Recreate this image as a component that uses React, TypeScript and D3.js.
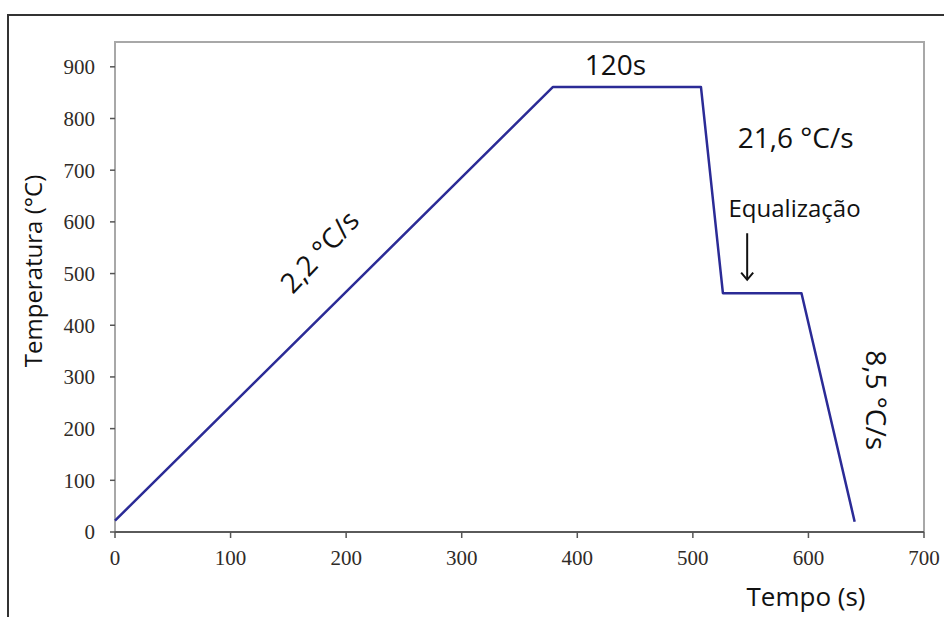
import * as d3 from 'd3';
import React from 'react';

// temperature profile
const times = [0, 379, 507, 526, 594, 640];
const temps = [22, 861, 861, 462, 462, 20];

const xTicks = [0, 100, 200, 300, 400, 500, 600, 700];
const yTicks = [0, 100, 200, 300, 400, 500, 600, 700, 800, 900];

const notes = ['120s', '21,6 °C/s', 'Equalização', '2,2 °C/s', '8,5 °C/s'];
const noteX = [433, 589, 588, 177, 658];
const noteY = [884, 743, 610, 542, 255];

const width = 944;
const height = 617;
const margin = { top: 42, right: 20, bottom: 85, left: 115 };

const sans = '"Open Sans", sans-serif';
const serif = '"Liberation Serif", "Times New Roman", serif';

const App: React.FC = () => {
  const x = d3.scaleLinear().domain([0, 700]).range([margin.left, width - margin.right]);
  const y = d3.scaleLinear().domain([0, 948]).range([height - margin.bottom, margin.top]);

  const points = times.map((t, i) => [t, temps[i]] as [number, number]);
  const line = d3
    .line<[number, number]>()
    .x((d) => x(d[0]))
    .y((d) => y(d[1]));

  const x0 = x(0);
  const x1 = x(700);
  const yb = y(0);
  const yt = y(948);

  return (
    <svg
      width={width}
      height={height}
      viewBox={`0 0 ${width} ${height}`}
      style={{ position: 'absolute', left: 0, top: 0, background: '#fff' }}
    >
      {/* outer frame, open on the right and bottom */}
      <path d={`M8,${height} V15 H${width}`} fill="none" stroke="#333" strokeWidth={2} />

      {/* plot frame */}
      <path d={`M${x0},${yb} V${yt} H${x1} V${yb}`} fill="none" stroke="#a8a8a8" strokeWidth={2} />
      <line x1={x0} x2={x1} y1={yb} y2={yb} stroke="#5a5a5a" strokeWidth={2} />

      {yTicks.map((t) => (
        <g key={`y${t}`}>
          <line x1={x0 - 5} x2={x0} y1={y(t)} y2={y(t)} stroke="#555" strokeWidth={1.5} />
          <text
            x={x0 - 20}
            y={y(t)}
            dy="0.35em"
            textAnchor="end"
            fontFamily={serif}
            fontSize={21}
            fill="#2f2b27"
          >
            {t}
          </text>
        </g>
      ))}

      {xTicks.map((t) => (
        <g key={`x${t}`}>
          <line x1={x(t)} x2={x(t)} y1={yb} y2={yb + 6} stroke="#555" strokeWidth={1.5} />
          <text
            x={x(t)}
            y={yb + 33}
            textAnchor="middle"
            fontFamily={serif}
            fontSize={21}
            fill="#2f2b27"
          >
            {t}
          </text>
        </g>
      ))}

      <path d={line(points) || ''} fill="none" stroke="#2b2b96" strokeWidth={2.5} strokeLinejoin="round" />

      {/* axis titles */}
      <text
        transform={`translate(34,271) rotate(-90)`}
        dy="0.35em"
        textAnchor="middle"
        fontFamily={sans}
        fontSize={24}
        fill="#111"
      >
        Temperatura (°C)
      </text>
      <text x={806} y={606} textAnchor="middle" fontFamily={sans} fontSize={26} fill="#111">
        Tempo (s)
      </text>

      {/* annotations */}
      <text x={x(noteX[0])} y={y(noteY[0])} textAnchor="middle" fontFamily={sans} fontSize={28} fill="#111">
        {notes[0]}
      </text>
      <text x={x(noteX[1])} y={y(noteY[1])} textAnchor="middle" fontFamily={sans} fontSize={28} fill="#111">
        {notes[1]}
      </text>
      <text x={x(noteX[2])} y={y(noteY[2])} textAnchor="middle" fontFamily={sans} fontSize={24} fill="#111">
        {notes[2]}
      </text>
      <text
        transform={`translate(${x(noteX[3])},${y(noteY[3])}) rotate(-47)`}
        dy="0.35em"
        textAnchor="middle"
        fontFamily={sans}
        fontSize={28}
        fill="#111"
      >
        {notes[3]}
      </text>
      <text
        transform={`translate(${x(noteX[4])},${y(noteY[4])}) rotate(90)`}
        dy="0.35em"
        textAnchor="middle"
        fontFamily={sans}
        fontSize={28}
        fill="#111"
      >
        {notes[4]}
      </text>

      {/* equalization arrow */}
      <line x1={x(547)} x2={x(547)} y1={y(578)} y2={y(490)} stroke="#111" strokeWidth={2} />
      <path
        d={`M${x(547) - 6},${y(502)} L${x(547)},${y(488)} L${x(547) + 6},${y(502)}`}
        fill="none"
        stroke="#111"
        strokeWidth={2}
      />
    </svg>
  );
};

export default App;
